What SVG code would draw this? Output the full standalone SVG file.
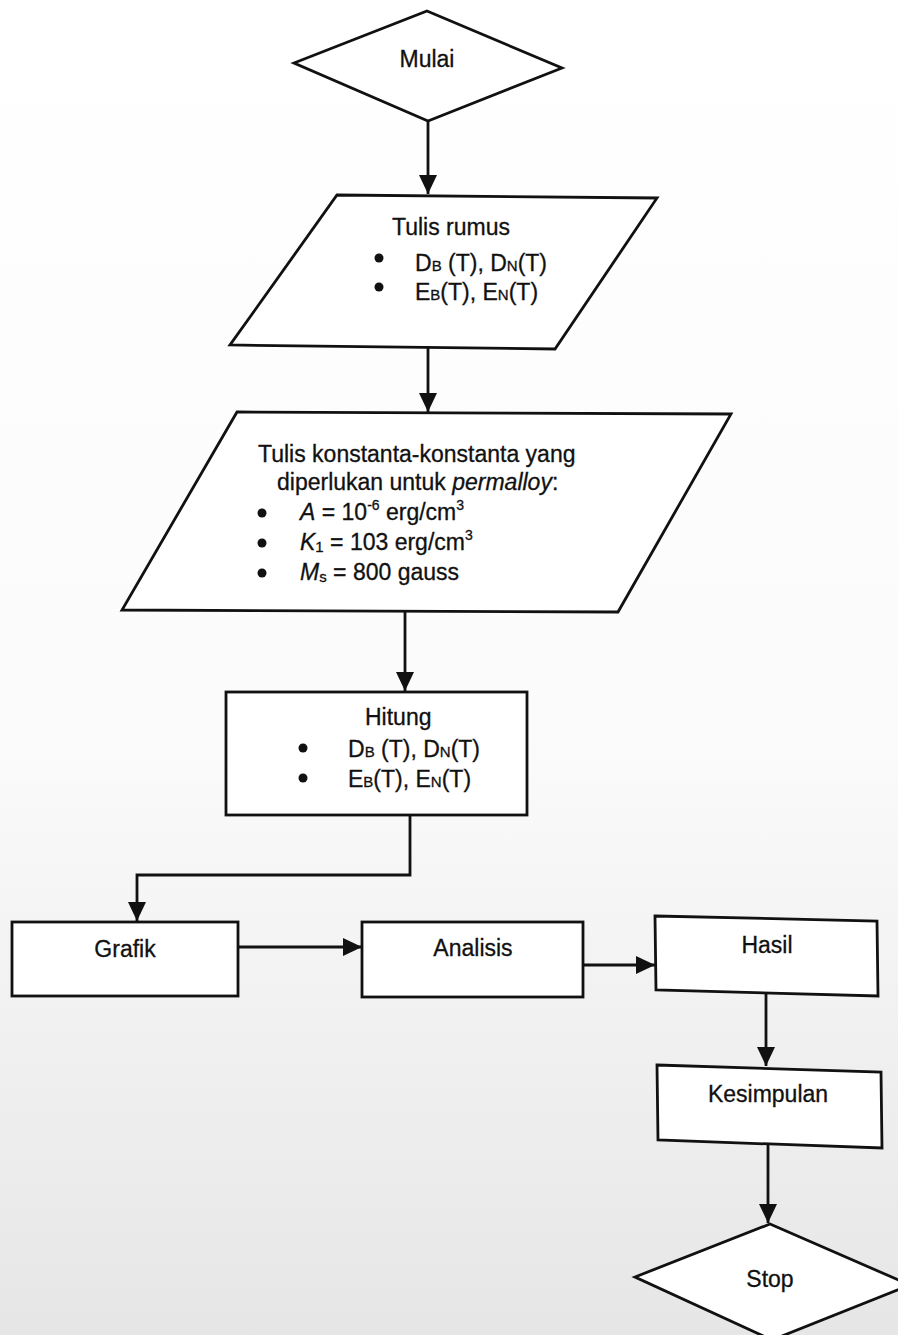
<svg xmlns="http://www.w3.org/2000/svg" width="898" height="1335" viewBox="0 0 898 1335">
<defs>
<linearGradient id="bg" x1="0" y1="0" x2="0" y2="1">
<stop offset="0" stop-color="#ffffff"/>
<stop offset="0.55" stop-color="#fbfbfb"/>
<stop offset="1" stop-color="#e6e6e6"/>
</linearGradient>
<marker id="arr" markerWidth="22" markerHeight="20" refX="19" refY="9" orient="auto" markerUnits="userSpaceOnUse">
<path d="M0,0 L19,9 L0,18 Z" fill="#111"/>
</marker>
<style>
.shape{fill:#fff;stroke:#111;stroke-width:2.8;stroke-linejoin:miter}
.line{fill:none;stroke:#111;stroke-width:2.8}
text{font-family:"Liberation Sans",Arial,sans-serif;font-size:23px;fill:#111;stroke:#111;stroke-width:0.3}
.c{text-anchor:middle}
.sub{font-size:15px}
.sup{font-size:14px}
.it{font-style:italic}
</style>
</defs>
<rect x="0" y="0" width="898" height="1335" fill="url(#bg)"/>

<g id="connectors">
<path class="line" d="M428,121 L428,194" marker-end="url(#arr)"/>
<path class="line" d="M428,348 L428,412" marker-end="url(#arr)"/>
<path class="line" d="M405,612 L405,691" marker-end="url(#arr)"/>
<path class="line" d="M410,815 L410,875 L137,875 L137,921" marker-end="url(#arr)"/>
<path class="line" d="M238,947 L362,947" marker-end="url(#arr)"/>
<path class="line" d="M583,965 L655,965" marker-end="url(#arr)"/>
<path class="line" d="M766,993 L766,1066" marker-end="url(#arr)"/>
<path class="line" d="M768,1145 L768,1223" marker-end="url(#arr)"/>
</g>

<g id="mulai">
<polygon class="shape" points="427,11 562,68 428,121 294,63"/>
<text class="c" x="427" y="67" font-size="21.5">Mulai</text>
</g>

<g id="tulis-rumus">
<polygon class="shape" points="337,195 657,198 555,349 230,345"/>
<text x="392" y="235">Tulis rumus</text>
<circle cx="379" cy="258" r="4.5" fill="#111"/>
<circle cx="379" cy="287" r="4.5" fill="#111"/>
<text x="415" y="271">D<tspan class="sub">B</tspan> (T), D<tspan class="sub">N</tspan>(T)</text>
<text x="415" y="300">E<tspan class="sub">B</tspan>(T), E<tspan class="sub">N</tspan>(T)</text>
</g>

<g id="tulis-konstanta">
<polygon class="shape" points="237,412 731,414 618,612 122,610"/>
<text x="258" y="462" font-size="22.7">Tulis konstanta-konstanta yang</text>
<text x="277" y="490" font-size="22.7">diperlukan untuk <tspan class="it">permalloy</tspan>:</text>
<circle cx="262" cy="513" r="4.5" fill="#111"/>
<circle cx="262" cy="543" r="4.5" fill="#111"/>
<circle cx="262" cy="573" r="4.5" fill="#111"/>
<text x="300" y="520"><tspan class="it">A</tspan> = 10<tspan class="sup" dy="-10">-6</tspan><tspan dy="10"> erg/cm</tspan><tspan class="sup" dy="-10">3</tspan></text>
<text x="300" y="550"><tspan class="it">K</tspan><tspan class="sub" dy="2">1</tspan><tspan dy="-2"> = 103 erg/cm</tspan><tspan class="sup" dy="-10">3</tspan></text>
<text x="300" y="580"><tspan class="it">M</tspan><tspan class="sub" dy="2">s</tspan><tspan dy="-2"> = 800 gauss</tspan></text>
</g>

<g id="hitung">
<rect class="shape" x="226" y="692" width="301" height="123"/>
<text x="365" y="725">Hitung</text>
<circle cx="303" cy="748" r="4.5" fill="#111"/>
<circle cx="303" cy="778" r="4.5" fill="#111"/>
<text x="348" y="757">D<tspan class="sub">B</tspan> (T), D<tspan class="sub">N</tspan>(T)</text>
<text x="348" y="787">E<tspan class="sub">B</tspan>(T), E<tspan class="sub">N</tspan>(T)</text>
</g>

<g id="grafik">
<rect class="shape" x="12" y="922" width="226" height="74"/>
<text class="c" x="125" y="957" font-size="24" stroke-width="0.6">Grafik</text>
</g>

<g id="analisis">
<rect class="shape" x="362" y="922" width="221" height="75"/>
<text class="c" x="473" y="956" font-size="24" stroke-width="0.6">Analisis</text>
</g>

<g id="hasil">
<polygon class="shape" points="655,916 877,921 878,996 656,990"/>
<text class="c" x="767" y="953" font-size="23">Hasil</text>
</g>

<g id="kesimpulan">
<polygon class="shape" points="657,1065 881,1072 882,1148 658,1140"/>
<text class="c" x="768" y="1102" font-size="23">Kesimpulan</text>
</g>

<g id="stop">
<polygon class="shape" points="770,1224 910,1285 772,1340 635,1277"/>
<text class="c" x="770" y="1287" font-size="23">Stop</text>
</g>
</svg>
